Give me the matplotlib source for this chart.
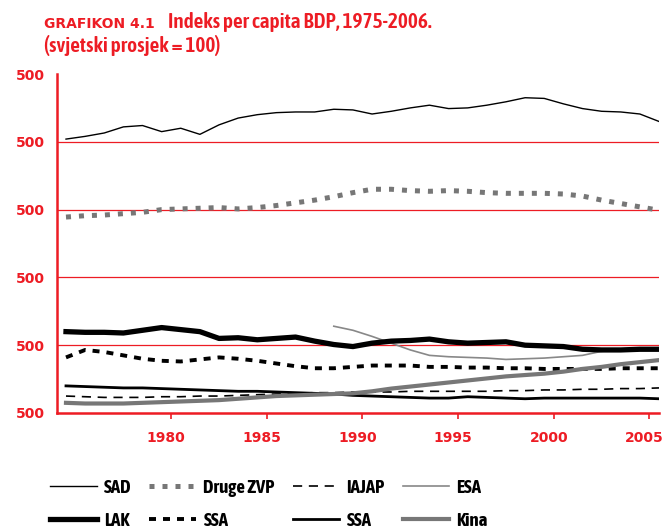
import matplotlib
matplotlib.use("Agg")
import matplotlib.pyplot as plt
import matplotlib.transforms as mtransforms

years = list(range(1975, 2007))

sad = [404, 408, 413, 422, 424, 415, 420, 411, 425, 435, 440, 443, 444, 444, 448, 447,
       441, 445, 450, 454, 449, 450, 454, 459, 465, 464, 456, 449, 445, 444, 441, 430]
druge_zvp = [289, 291, 292, 294, 296, 300, 301, 302, 303, 301, 303, 306, 310, 314, 319, 325,
             330, 330, 328, 327, 328, 327, 325, 324, 324, 324, 323, 320, 314, 309, 304, 299]
iajap = [25, 24, 23, 23, 23, 24, 24, 25, 25, 26, 27, 28, 29, 30, 30, 31,
         31, 31, 32, 32, 32, 32, 32, 33, 33, 34, 34, 35, 35, 36, 36, 37]
esa_years = list(range(1989, 2007))
esa = [128, 122, 113, 103, 93, 85, 83, 82, 81, 79, 80, 81, 83, 85, 91, 93, 94, 94]
lak = [120, 119, 119, 118, 122, 126, 123, 120, 110, 111, 108, 110, 112, 106, 101, 98,
       103, 106, 107, 109, 105, 103, 104, 105, 100, 99, 98, 94, 93, 93, 94, 94]
ssa_dashed = [82, 93, 90, 85, 80, 77, 76, 79, 82, 80, 77, 73, 69, 66, 66, 68,
              70, 70, 70, 68, 68, 67, 67, 66, 66, 65, 65, 65, 65, 66, 66, 66]
ssa_solid = [40, 39, 38, 37, 37, 36, 35, 34, 33, 32, 32, 31, 30, 29, 28, 26,
             25, 24, 23, 22, 22, 24, 23, 22, 21, 22, 22, 22, 22, 22, 22, 21]
kina = [15, 14, 14, 14, 15, 16, 17, 18, 19, 21, 23, 25, 26, 27, 28, 29,
        32, 36, 39, 42, 45, 48, 51, 54, 56, 58, 61, 65, 68, 72, 75, 78]

xtick_years = [1980, 1985, 1990, 1995, 2000, 2005]
ytick_values = [0, 100, 200, 300, 400, 500]
ytick_labels = ["500", "500", "500", "500", "500", "500"]
grid_values = [100, 200, 300, 400]

RED = "#ed1c24"
GREY = "#777777"
COND = ["Asap Condensed", "DejaVu Sans"]

W, H = 665, 532
fig = plt.figure(figsize=(W / 100, H / 100), dpi=100)
ax = fig.add_axes([57 / W, 1 - 413 / H, 602 / W, 339 / H])

for g in grid_values:
    ax.axhline(g, color=RED, lw=0.9, zorder=1)

ax.plot(years, sad, color="black", lw=1.0, label="SAD", zorder=3)
ax.plot(years, druge_zvp, color=GREY, lw=3.6, dashes=(1.0, 1.6), label="Druge ZVP", zorder=3)
ax.plot(years, iajap, color="black", lw=1.2, dashes=(5.5, 4.0), label="IAJAP", zorder=3)
ax.plot(esa_years, esa, color="#888888", lw=1.2, label="ESA", zorder=3)
ax.plot(years, lak, color="black", lw=3.8, label="LAK", zorder=4)
ax.plot(years, ssa_dashed, color="black", lw=2.8, dashes=(1.8, 1.8), label="SSA", zorder=3)
ax.plot(years, ssa_solid, color="black", lw=2.0, label="SSA", zorder=3)
ax.plot(years, kina, color=GREY, lw=3.0, label="Kina", zorder=4)

ax.set_xlim(1974.53, 2006.0)
ax.set_ylim(0, 500)
ax.set_yticks(ytick_values)
ax.set_yticklabels(ytick_labels)
ax.set_xticks([y + 0.5 for y in xtick_years])
ax.set_xticklabels([str(y) for y in xtick_years])

for s in ["top", "right"]:
    ax.spines[s].set_visible(False)
for s in ["left", "bottom"]:
    ax.spines[s].set_color(RED)
    ax.spines[s].set_linewidth(1.8)

ax.tick_params(axis="y", length=0, pad=9, labelcolor=RED, labelsize=10)
ax.tick_params(axis="x", length=4.3, width=1.2, color=RED, pad=9, labelcolor=RED, labelsize=10)
shift = mtransforms.ScaledTranslation(-5 / 100, 0, fig.dpi_scale_trans)
for lab in ax.get_xticklabels():
    lab.set_transform(lab.get_transform() + shift)
for lab in ax.get_xticklabels() + ax.get_yticklabels():
    lab.set_fontweight("bold")
    lab.set_family("DejaVu Sans")

# Title
fig.text(44 / W, 1 - 28 / H, "GRAFIKON 4.1", color=RED, fontsize=10, fontweight="bold",
         family="DejaVu Sans", va="baseline", ha="left")
fig.text(168 / W, 1 - 28 / H, "Indeks per capita BDP, 1975-2006.", color=RED, fontsize=15.3,
         fontweight="semibold", family=COND, va="baseline", ha="left")
fig.text(44 / W, 1 - 52 / H, "(svjetski prosjek = 100)", color=RED, fontsize=15.3,
         fontweight="semibold", family=COND, va="baseline", ha="left")

# Legend (row-major order re-arranged for column-major filling)
h, l = ax.get_legend_handles_labels()
order = [0, 4, 1, 5, 2, 6, 3, 7]
leg = fig.legend([h[i] for i in order], [l[i] for i in order], ncol=4,
                 loc="upper left", bbox_to_anchor=(33 / W, 1 - 462 / H),
                 frameon=False, handlelength=2.5, handletextpad=0.38,
                 columnspacing=0.95, labelspacing=0.8,
                 prop={"family": COND, "weight": "bold", "size": 13.5})

fig.savefig("out.png", dpi=100)
